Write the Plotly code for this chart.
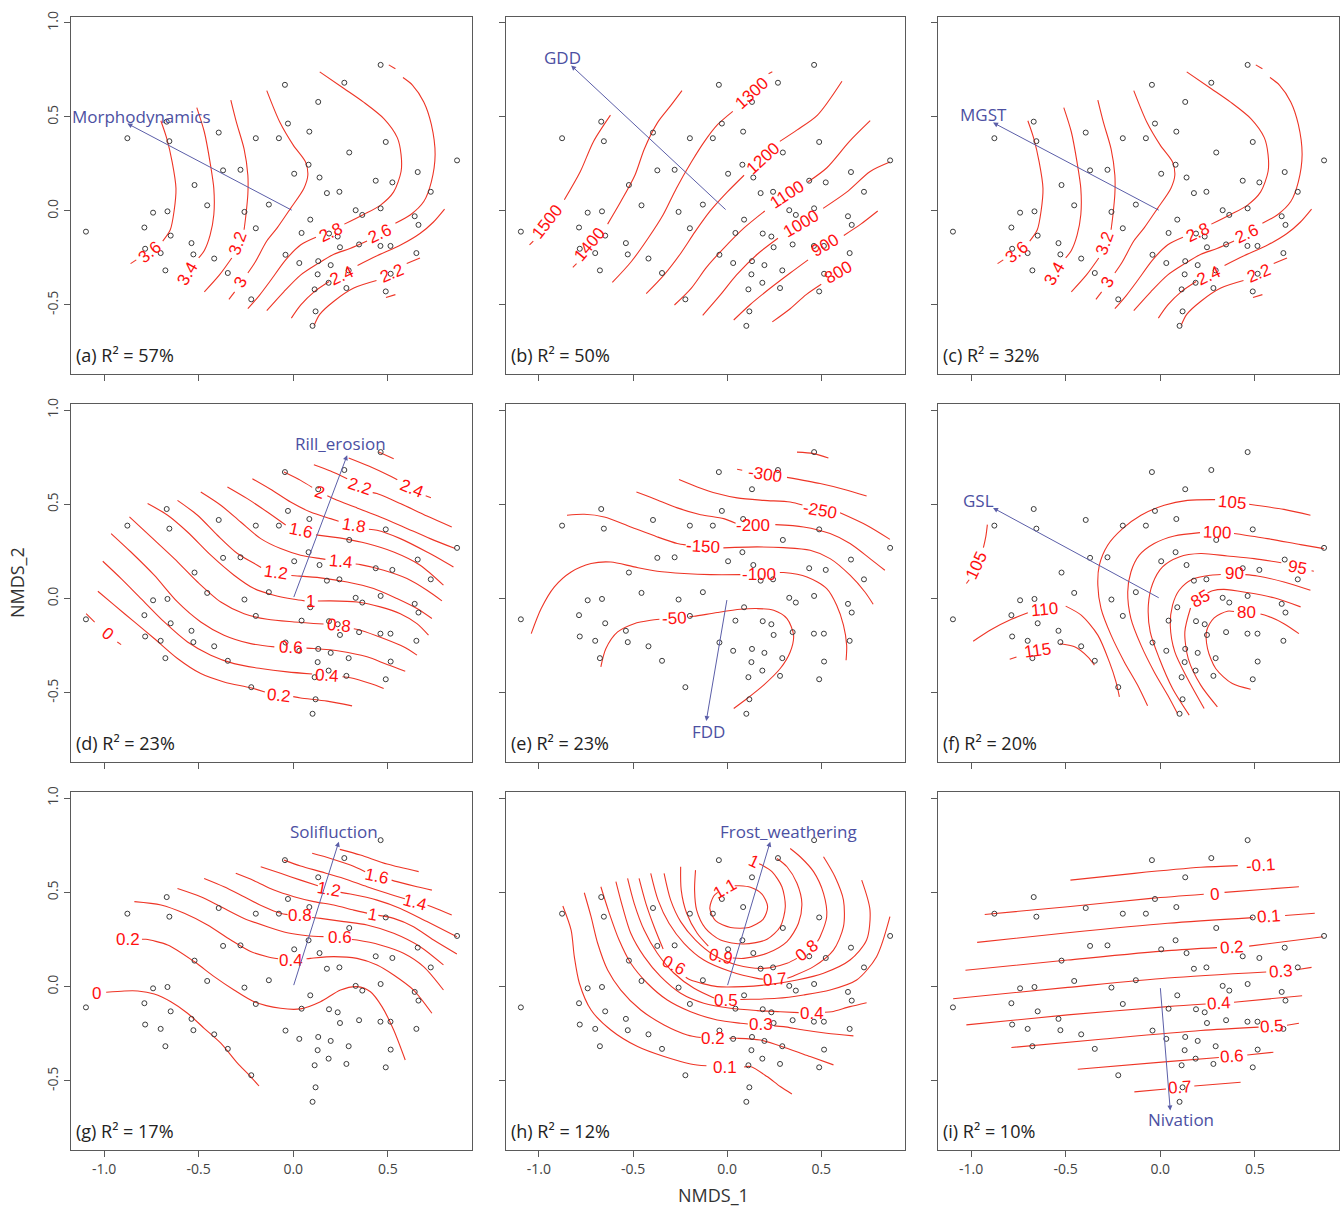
import plotly.graph_objects as go

# ---------------- data: NMDS site scores (same sites in every panel) ----------------
site_x = [0.462, -0.044, 0.270, 0.132, -0.669, -0.028, -0.877, -0.655, -0.394, -0.198,
          -0.076, 0.085, 0.489, 0.296, 0.866, -0.371, -0.279, 0.005, 0.081, 0.139,
          -0.522, 0.436, 0.524, 0.658, 0.178, 0.244, 0.727, -0.455, -0.129, -0.741,
          -0.665, -0.258, 0.330, 0.365, 0.462, 0.642, 0.090, 0.662, -1.096, -0.787,
          -0.648, -0.198, 0.044, 0.189, 0.235, -0.538, -0.783, -0.701, -0.528, -0.418,
          -0.041, 0.247, 0.348, 0.461, 0.514, 0.651, -0.676, -0.346, 0.032, 0.132,
          0.198, 0.293, 0.129, 0.515, 0.187, 0.113, 0.281, 0.489, -0.222, 0.118, 0.102]
site_y = [0.777, 0.671, 0.682, 0.580, 0.475, 0.465, 0.387, 0.371, 0.417, 0.387,
          0.387, 0.422, 0.367, 0.311, 0.269, 0.216, 0.219, 0.198, 0.246, 0.178,
          0.138, 0.161, 0.152, 0.207, 0.095, 0.102, 0.102, 0.030, 0.034, -0.009,
          -0.002, -0.005, 0.004, -0.021, 0.014, -0.028, -0.046, -0.074, -0.110, -0.088,
          -0.131, -0.092, -0.117, -0.120, -0.136, -0.171, -0.201, -0.224, -0.231, -0.253,
          -0.233, -0.193, -0.178, -0.186, -0.186, -0.224, -0.316, -0.330, -0.277, -0.267,
          -0.288, -0.316, -0.337, -0.334, -0.382, -0.417, -0.410, -0.428, -0.470, -0.534, -0.611]

panel_tags = ["(a)", "(b)", "(c)", "(d)", "(e)", "(f)", "(g)", "(h)", "(i)"]
panel_r2 = [57, 50, 32, 23, 23, 20, 17, 12, 10]

vector_names = ["Morphodynamics", "GDD", "MGST", "Rill_erosion", "FDD", "GSL",
                "Solifluction", "Frost_weathering", "Nivation"]
vector_tip_x = [-0.877, -0.829, -0.884, 0.285, -0.111, -0.884, 0.241, 0.229, 0.053]
vector_tip_y = [0.465, 0.774, 0.470, 0.760, -0.650, 0.481, 0.769, 0.769, -0.657]
vector_lab_x = [-0.80, -0.873, -0.937, 0.250, -0.099, -0.963, 0.214, 0.326, 0.109]
vector_lab_y = [0.50, 0.818, 0.512, 0.822, -0.707, 0.521, 0.822, 0.822, -0.707]

# ---------------- fitted surface isolines, None = gap for label ----------------
a_lines = [
    [(-0.70, 0.48), (-0.67, 0.39), (-0.64, 0.26), (-0.62, 0.12), (-0.63, 0.00), (-0.65, -0.10), (-0.69, -0.16), None, (-0.83, -0.26), (-0.86, -0.28)],
    [(-0.51, 0.55), (-0.47, 0.42), (-0.44, 0.26), (-0.42, 0.12), (-0.42, -0.02), (-0.44, -0.13), (-0.47, -0.21), (-0.50, -0.25)],
    [(-0.33, 0.59), (-0.30, 0.47), (-0.26, 0.33), (-0.24, 0.19), (-0.24, 0.09), (-0.25, -0.02), (-0.26, -0.10), None, (-0.325, -0.25), (-0.39, -0.34), (-0.47, -0.43)],
    [(-0.14, 0.64), (-0.07, 0.47), (0.00, 0.35), (0.065, 0.26), (0.077, 0.19), (0.056, 0.12), (-0.014, 0.014), (-0.085, -0.09), (-0.14, -0.16), (-0.20, -0.27), (-0.24, -0.33), None, (-0.31, -0.43), (-0.34, -0.47)],
    [(0.14, 0.74), (0.27, 0.65), (0.37, 0.58), (0.48, 0.49), (0.55, 0.39), (0.57, 0.30), (0.57, 0.21), (0.53, 0.10), (0.46, 0.03), (0.37, -0.02), (0.27, -0.07), None, (0.12, -0.14), (0.04, -0.18), (-0.04, -0.26), (-0.12, -0.37), (-0.18, -0.45), (-0.24, -0.52)],
    [(0.58, 0.71), (0.63, 0.67), (0.69, 0.58), (0.73, 0.46), (0.75, 0.30), (0.73, 0.155), (0.69, 0.05), (0.62, -0.02), (0.54, -0.065), None, (0.39, -0.16), (0.30, -0.20), (0.215, -0.23), (0.13, -0.28), (0.04, -0.34), (-0.05, -0.43), (-0.14, -0.53)],
    [(0.505, 0.777), (0.54, 0.756)],
    [(-0.01, -0.57), (0.04, -0.50), (0.11, -0.43), (0.19, -0.375), None, (0.34, -0.29), (0.44, -0.24), (0.57, -0.18), (0.67, -0.12), (0.74, -0.06), (0.80, 0.01)],
    [(0.11, -0.61), (0.14, -0.55), (0.215, -0.48), (0.32, -0.41), (0.44, -0.37), None, (0.60, -0.28), (0.67, -0.25)],
    [(0.49, -0.46), (0.54, -0.445)],
]
a_labels = [("3.6", -0.76, -0.22, -40), ("3.4", -0.56, -0.33, -60), ("3.2", -0.29, -0.17, -70),
            ("3", -0.28, -0.38, -60), ("2.8", 0.20, -0.115, -25), ("2.6", 0.46, -0.12, -25),
            ("2.4", 0.26, -0.345, -25), ("2.2", 0.52, -0.33, -22)]

b_lines = [
    [(-1.05, -0.18), (-1.03, -0.16), None, (-0.865, 0.06), (-0.78, 0.21), (-0.71, 0.37), (-0.62, 0.51)],
    [(-0.82, -0.30), (-0.80, -0.28), None, (-0.635, -0.07), (-0.565, 0.05), (-0.49, 0.19), (-0.44, 0.33), (-0.37, 0.47), (-0.30, 0.56), (-0.24, 0.64)],
    [(-0.61, -0.38), (-0.51, -0.27), (-0.42, -0.145), (-0.34, -0.02), (-0.27, 0.12), (-0.19, 0.26), (-0.12, 0.37), (-0.05, 0.46), (0.03, 0.53), None, (0.22, 0.73), (0.24, 0.74)],
    [(-0.43, -0.44), (-0.335, -0.34), (-0.25, -0.23), (-0.17, -0.11), (-0.09, 0.00), (0.00, 0.10), (0.09, 0.19), None, (0.28, 0.37), (0.37, 0.43), (0.48, 0.51), (0.61, 0.69)],
    [(-0.28, -0.50), (-0.19, -0.41), (-0.11, -0.30), (-0.02, -0.20), (0.09, -0.09), (0.20, 0.00), None, (0.43, 0.155), (0.53, 0.23), (0.65, 0.37), (0.76, 0.48)],
    [(-0.13, -0.555), (-0.035, -0.445), (0.05, -0.34), (0.16, -0.23), (0.27, -0.145), None, (0.51, 0.014), (0.635, 0.10), (0.76, 0.21), (0.865, 0.26)],
    [(0.035, -0.58), (0.12, -0.50), (0.23, -0.41), (0.335, -0.33), (0.43, -0.26), None, (0.62, -0.13), (0.71, -0.07), (0.80, 0.00)],
    [(0.24, -0.59), (0.335, -0.52), (0.42, -0.445), (0.50, -0.39)],
]
b_labels = [("1500", -0.955, -0.055, -52), ("1400", -0.73, -0.18, -50), ("1300", 0.13, 0.625, -42),
            ("1200", 0.19, 0.28, -42), ("1100", 0.32, 0.085, -33), ("1000", 0.395, -0.065, -30),
            ("900", 0.52, -0.185, -30), ("800", 0.59, -0.325, -30)]

c_lines = a_lines
c_labels = a_labels

d_lines = [
    [(-1.095, -0.080), (-1.05, -0.125), None, (-0.93, -0.23), (-0.91, -0.244)],
    [(-1.033, 0.039), (-0.946, -0.035), (-0.840, -0.124), (-0.735, -0.212), (-0.612, -0.318), (-0.489, -0.398), (-0.366, -0.442), (-0.225, -0.473), (-0.15, -0.495), None, (0.00, -0.52), (0.039, -0.527), (0.179, -0.544), (0.311, -0.569)],
    [(-1.007, 0.198), (-0.910, 0.106), (-0.805, 0.000), (-0.682, -0.124), (-0.559, -0.230), (-0.436, -0.300), (-0.313, -0.345), (-0.172, -0.371), (-0.032, -0.389), (0.10, -0.40), None, (0.26, -0.415), (0.302, -0.420), (0.408, -0.451), (0.478, -0.477)],
    [(-0.963, 0.345), (-0.858, 0.247), (-0.735, 0.124), (-0.612, -0.018), (-0.489, -0.124), (-0.366, -0.194), (-0.225, -0.239), (-0.10, -0.256), None, (0.07, -0.263), (0.109, -0.265), (0.250, -0.279), (0.390, -0.309), (0.496, -0.350), (0.592, -0.385)],
    [(-0.866, 0.433), (-0.752, 0.327), (-0.629, 0.212), (-0.506, 0.088), (-0.383, -0.018), (-0.260, -0.080), (-0.137, -0.110), (0.004, -0.124), (0.16, -0.135), None, (0.32, -0.16), (0.355, -0.168), (0.478, -0.212), (0.583, -0.256), (0.654, -0.300)],
    [(-0.770, 0.504), (-0.664, 0.442), (-0.559, 0.353), (-0.436, 0.230), (-0.313, 0.124), (-0.207, 0.053), (-0.102, 0.018), (0.004, -0.004), (0.06, -0.012), None, (0.13, -0.013), (0.197, -0.012), (0.337, -0.018), (0.460, -0.044), (0.566, -0.080), (0.654, -0.133), (0.715, -0.194)],
    [(-0.612, 0.521), (-0.506, 0.442), (-0.401, 0.336), (-0.295, 0.239), (-0.190, 0.177), (-0.17, 0.165), None, (-0.01, 0.122), (0.021, 0.120), (0.144, 0.110), (0.285, 0.088), (0.425, 0.053), (0.548, 0.000), (0.654, -0.053), (0.733, -0.106)],
    [(-0.489, 0.565), (-0.383, 0.495), (-0.278, 0.406), (-0.172, 0.318), (-0.067, 0.265), (0.039, 0.230), (0.144, 0.212), (0.17, 0.208), None, (0.33, 0.183), (0.355, 0.180), (0.478, 0.150), (0.601, 0.106), (0.707, 0.044), (0.786, -0.012)],
    [(-0.348, 0.592), (-0.243, 0.530), (-0.137, 0.459), (-0.04, 0.39), None, (0.12, 0.338), (0.267, 0.318), (0.390, 0.292), (0.531, 0.247), (0.671, 0.177), (0.794, 0.071)],
    [(-0.216, 0.636), (-0.120, 0.580), (-0.014, 0.512), (0.091, 0.459), (0.197, 0.424), (0.24, 0.41), None, (0.40, 0.368), (0.443, 0.362), (0.566, 0.318), (0.707, 0.247), (0.847, 0.168)],
    [(-0.049, 0.671), (0.039, 0.627), (0.10, 0.59), None, (0.18, 0.545), (0.214, 0.530), (0.337, 0.481), (0.460, 0.433), (0.583, 0.380), (0.724, 0.318), (0.856, 0.265)],
    [(0.109, 0.710), (0.197, 0.677), (0.285, 0.636), None, (0.42, 0.562), (0.443, 0.557), (0.566, 0.504), (0.707, 0.438), (0.838, 0.380)],
    [(0.293, 0.746), (0.399, 0.703), (0.504, 0.654), (0.55, 0.63), None, (0.70, 0.545), (0.728, 0.535)],
    [(0.452, 0.777), (0.531, 0.742)],
]
d_labels = [("0", -0.984, -0.186, 40), ("0.2", -0.076, -0.512, 6), ("0.4", 0.179, -0.41, 4),
            ("0.6", -0.014, -0.261, 2), ("0.8", 0.241, -0.145, 6), ("1", 0.091, -0.014, 0),
            ("1.2", -0.093, 0.138, 8), ("1.4", 0.250, 0.196, 6), ("1.6", 0.039, 0.36, 12),
            ("1.8", 0.320, 0.385, 10), ("2", 0.139, 0.565, 18), ("2.2", 0.351, 0.597, 18),
            ("2.4", 0.627, 0.585, 22)]

e_lines = [
    [(0.053, 0.686), (0.08, 0.681), None, (0.318, 0.643), (0.494, 0.610), (0.618, 0.580), (0.741, 0.544)],
    [(0.371, 0.777), (0.459, 0.769), (0.538, 0.746)],
    [(-0.256, 0.631), (-0.159, 0.592), (-0.053, 0.557), (0.053, 0.534), (0.194, 0.521), (0.335, 0.512), (0.40, 0.496), None, (0.60, 0.455), (0.741, 0.389), (0.865, 0.314)],
    [(-0.482, 0.565), (-0.388, 0.530), (-0.265, 0.481), (-0.141, 0.445), (-0.018, 0.424), (0.045, 0.40), None, (0.256, 0.392), (0.406, 0.380), (0.547, 0.345), (0.653, 0.292), (0.759, 0.212), (0.838, 0.150)],
    [(-0.851, 0.442), (-0.759, 0.447), (-0.653, 0.433), (-0.512, 0.380), (-0.371, 0.327), (-0.265, 0.292), (-0.22, 0.285), None, (-0.02, 0.269), (0.159, 0.274), (0.300, 0.270), (0.441, 0.256), (0.547, 0.212), (0.653, 0.124), (0.732, 0.035), (0.776, -0.030)],
    [(-1.041, -0.186), (-0.988, -0.053), (-0.918, 0.062), (-0.829, 0.141), (-0.723, 0.186), (-0.618, 0.194), (-0.494, 0.168), (-0.371, 0.145), (-0.229, 0.133), (-0.088, 0.127), (0.07, 0.127), None, (0.28, 0.138), (0.300, 0.138), (0.424, 0.115), (0.529, 0.053), (0.582, -0.035), (0.618, -0.141), (0.635, -0.247), (0.632, -0.327)],
    [(-0.671, -0.362), (-0.644, -0.265), (-0.582, -0.177), (-0.494, -0.133), (-0.406, -0.115), (-0.36, -0.11), None, (-0.20, -0.096), (-0.176, -0.094), (-0.053, -0.074), (0.071, -0.057), (0.159, -0.053), (0.247, -0.062), (0.318, -0.106), (0.353, -0.194), (0.335, -0.283), (0.282, -0.371), (0.194, -0.459), (0.106, -0.530), (0.035, -0.583)],
]
e_labels = [("-300", 0.203, 0.657, 8), ("-250", 0.494, 0.468, 10), ("-200", 0.138, 0.385, 0),
            ("-150", -0.127, 0.274, 3), ("-100", 0.168, 0.127, 0), ("-50", -0.282, -0.106, -3)]

f_lines = [
    [(0.794, 0.442), (0.654, 0.473), (0.47, 0.50), None, (0.29, 0.525), (0.144, 0.521), (0.021, 0.495), (-0.102, 0.442), (-0.199, 0.371), (-0.278, 0.283), (-0.322, 0.177), (-0.330, 0.071), (-0.313, -0.053), (-0.260, -0.194), (-0.190, -0.336), (-0.120, -0.459), (-0.067, -0.569)],
    [(0.865, 0.265), (0.742, 0.286), (0.566, 0.318), (0.39, 0.345), None, (0.21, 0.350), (0.074, 0.332), (-0.032, 0.292), (-0.111, 0.230), (-0.155, 0.141), (-0.172, 0.035), (-0.155, -0.106), (-0.102, -0.247), (-0.032, -0.389), (0.039, -0.512), (0.091, -0.610)],
    [(0.812, 0.145), (0.80, 0.148), None, (0.64, 0.19), (0.496, 0.212), (0.355, 0.226), (0.214, 0.239), (0.100, 0.221), (0.012, 0.168), (-0.040, 0.080), (-0.063, -0.035), (-0.053, -0.177), (-0.005, -0.318), (0.065, -0.477), (0.153, -0.618)],
    [(0.794, 0.044), (0.654, 0.088), (0.513, 0.120), (0.45, 0.127), None, (0.32, 0.128), (0.267, 0.124), (0.170, 0.102), (0.100, 0.044), (0.065, -0.035), (0.053, -0.141), (0.077, -0.283), (0.144, -0.424), (0.232, -0.583)],
    [(0.742, -0.044), (0.601, 0.004), (0.460, 0.032), (0.337, 0.049), (0.276, 0.042), (0.25, 0.03), None, (0.16, -0.05), (0.130, -0.177), (0.148, -0.318), (0.214, -0.459), (0.302, -0.574)],
    [(0.733, -0.186), (0.654, -0.133), (0.566, -0.092), (0.53, -0.082), None, (0.39, -0.069), (0.355, -0.067), (0.285, -0.102), (0.246, -0.168), (0.250, -0.265), (0.293, -0.371), (0.381, -0.451), (0.478, -0.481)],
    [(-0.989, -0.226), (-0.893, -0.164), (-0.787, -0.110), (-0.70, -0.075), None, (-0.50, -0.04), (-0.418, -0.088), (-0.330, -0.194), (-0.269, -0.336), (-0.234, -0.442), (-0.216, -0.521)],
    [(-0.796, -0.322), (-0.76, -0.31), None, (-0.53, -0.24), (-0.453, -0.256), (-0.383, -0.309), (-0.348, -0.353)],
    [(-0.914, 0.392), (-0.922, 0.33), (-0.935, 0.27), None, (-1.01, 0.10), (-1.025, 0.08)],
]
f_labels = [("105", 0.381, 0.509, 5), ("100", 0.302, 0.348, 2), ("95", 0.724, 0.163, 10),
            ("90", 0.390, 0.133, 0), ("85", 0.214, 0.000, -30), ("80", 0.457, -0.076, 0),
            ("110", -0.612, -0.057, -5), ("115", -0.647, -0.274, -8), ("105", -0.972, 0.177, -65)]

g_lines = [
    [(-0.989, -0.030), (-0.893, -0.023), (-0.822, -0.023), (-0.735, -0.039), (-0.647, -0.080), (-0.559, -0.141), (-0.471, -0.221), (-0.383, -0.300), (-0.295, -0.406), (-0.234, -0.468), (-0.181, -0.527)],
    [(-0.80, 0.251), (-0.779, 0.251), (-0.664, 0.221), (-0.524, 0.133), (-0.418, 0.053), (-0.313, -0.018), (-0.207, -0.080), (-0.067, -0.115), (0.039, -0.118), (0.144, -0.080), (0.250, -0.018), (0.337, 0.000), (0.408, -0.027), (0.469, -0.106), (0.531, -0.230), (0.592, -0.389)],
    [(-0.840, 0.451), (-0.699, 0.433), (-0.576, 0.389), (-0.453, 0.327), (-0.330, 0.247), (-0.225, 0.186), (-0.137, 0.159), (-0.08, 0.148), None, (0.07, 0.148), (0.091, 0.150), (0.214, 0.159), (0.337, 0.150), (0.443, 0.115), (0.531, 0.062), (0.636, -0.018), (0.733, -0.141)],
    [(-0.612, 0.521), (-0.489, 0.477), (-0.383, 0.424), (-0.260, 0.362), (-0.137, 0.318), (-0.032, 0.286), (0.074, 0.270), (0.16, 0.265), None, (0.31, 0.25), (0.337, 0.247), (0.460, 0.221), (0.583, 0.177), (0.689, 0.106), (0.794, -0.018)],
    [(-0.471, 0.574), (-0.366, 0.530), (-0.260, 0.477), (-0.155, 0.424), (-0.067, 0.389), (-0.03, 0.382), None, (0.10, 0.367), (0.144, 0.362), (0.267, 0.345), (0.390, 0.327), (0.531, 0.283), (0.671, 0.212), (0.794, 0.115)],
    [(-0.304, 0.601), (-0.207, 0.562), (-0.102, 0.512), (0.004, 0.477), (0.109, 0.451), (0.214, 0.433), (0.320, 0.406), (0.39, 0.39), None, (0.45, 0.378), (0.531, 0.362), (0.636, 0.318), (0.742, 0.247), (0.865, 0.173)],
    [(-0.172, 0.636), (-0.067, 0.601), (0.039, 0.565), (0.13, 0.535), None, (0.25, 0.50), (0.302, 0.491), (0.443, 0.459), (0.566, 0.415), (0.707, 0.345), (0.865, 0.265)],
    [(-0.049, 0.671), (0.039, 0.640), (0.144, 0.610), (0.267, 0.574), (0.390, 0.530), (0.496, 0.495), (0.59, 0.466), None, (0.71, 0.432), (0.742, 0.420), (0.838, 0.380)],
    [(0.100, 0.707), (0.197, 0.680), (0.302, 0.645), (0.38, 0.61), None, (0.52, 0.565), (0.548, 0.557), (0.654, 0.530), (0.733, 0.512)],
    [(0.246, 0.728), (0.355, 0.698), (0.496, 0.650), (0.663, 0.610)],
]
g_labels = [("0", -1.042, -0.039, 0), ("0.2", -0.875, 0.251, 0), ("0.4", -0.014, 0.140, 0),
            ("0.6", 0.246, 0.258, 0), ("0.8", 0.035, 0.375, 0), ("1", 0.417, 0.385, 10),
            ("1.2", 0.188, 0.516, 10), ("1.4", 0.645, 0.447, 15), ("1.6", 0.443, 0.585, 12)]

h_lines = [
    [(-0.873, 0.428), (-0.829, 0.300), (-0.812, 0.159), (-0.785, 0.018), (-0.723, -0.124), (-0.618, -0.230), (-0.476, -0.318), (-0.335, -0.371), (-0.194, -0.410), (-0.11, -0.42), None, (0.09, -0.426), (0.124, -0.424), (0.212, -0.477), (0.282, -0.530), (0.344, -0.569)],
    [(-0.759, 0.498), (-0.723, 0.371), (-0.688, 0.230), (-0.635, 0.088), (-0.565, -0.018), (-0.459, -0.124), (-0.335, -0.203), (-0.212, -0.256), (-0.14, -0.27), None, (0.01, -0.274), (0.053, -0.274), (0.176, -0.283), (0.318, -0.327), (0.441, -0.371), (0.565, -0.415)],
    [(-0.671, 0.530), (-0.626, 0.389), (-0.574, 0.247), (-0.512, 0.124), (-0.424, 0.018), (-0.318, -0.071), (-0.194, -0.133), (-0.053, -0.177), (0.071, -0.194), (0.11, -0.198), None, (0.25, -0.208), (0.300, -0.212), (0.406, -0.230), (0.529, -0.247), (0.671, -0.261)],
    [(-0.591, 0.557), (-0.556, 0.424), (-0.512, 0.283), (-0.441, 0.159), (-0.353, 0.053), (-0.247, -0.035), (-0.124, -0.088), (0.018, -0.115), (0.159, -0.127), (0.282, -0.133), (0.38, -0.138), None, (0.52, -0.136), (0.556, -0.133), (0.653, -0.106), (0.741, -0.085)],
    [(-0.529, 0.574), (-0.494, 0.442), (-0.441, 0.300), (-0.371, 0.177), (-0.282, 0.071), (-0.176, -0.009), (-0.07, -0.06), None, (0.07, -0.068), (0.124, -0.067), (0.265, -0.062), (0.406, -0.044), (0.547, -0.018), (0.688, 0.035), (0.794, 0.159), (0.865, 0.371)],
    [(-0.468, 0.574), (-0.432, 0.442), (-0.388, 0.318), (-0.34, 0.20), None, (-0.22, 0.05), (-0.194, 0.035), (-0.053, 0.000), (0.088, 0.000), (0.229, 0.012), (0.371, 0.035), (0.512, 0.071), (0.653, 0.141), (0.741, 0.247), (0.759, 0.406), (0.715, 0.565)],
    [(-0.406, 0.601), (-0.367, 0.459), (-0.309, 0.336), (-0.229, 0.230), (-0.124, 0.141), (0.018, 0.080), (0.159, 0.044), (0.19, 0.04), None, (0.32, 0.045), (0.353, 0.057), (0.459, 0.106), (0.565, 0.194), (0.618, 0.318), (0.618, 0.459), (0.573, 0.583), (0.512, 0.689)],
    [(-0.335, 0.601), (-0.300, 0.459), (-0.247, 0.345), (-0.168, 0.247), (-0.071, 0.168), (0.053, 0.115), (0.194, 0.097), (0.318, 0.124), (0.37, 0.15), None, (0.48, 0.24), (0.494, 0.265), (0.529, 0.371), (0.512, 0.495), (0.459, 0.610), (0.388, 0.689), (0.335, 0.733)],
    [(-0.247, 0.636), (-0.244, 0.512), (-0.215, 0.389), (-0.159, 0.283), (-0.10, 0.215), None, (0.03, 0.152), (0.088, 0.150), (0.212, 0.177), (0.318, 0.239), (0.379, 0.336), (0.397, 0.442), (0.371, 0.548), (0.318, 0.636), (0.265, 0.680)],
    [(-0.168, 0.618), (-0.173, 0.512), (-0.162, 0.406), (-0.115, 0.309), (-0.035, 0.247), (0.088, 0.226), (0.212, 0.251), (0.282, 0.318), (0.309, 0.424), (0.291, 0.530), (0.238, 0.610), (0.185, 0.645), (0.17, 0.652)],
    [(-0.05, 0.50), (-0.071, 0.481), (-0.092, 0.415), (-0.062, 0.350), (0.018, 0.314), (0.115, 0.314), (0.191, 0.357), (0.215, 0.424), (0.185, 0.491), (0.124, 0.527), (0.062, 0.535), (0.04, 0.535)],
]
h_labels = [("0.1", -0.009, -0.428, 0), ("0.2", -0.074, -0.274, 0), ("0.3", 0.180, -0.203, 0),
            ("0.4", 0.450, -0.141, 0), ("0.5", -0.004, -0.071, 0), ("0.6", -0.282, 0.112, 28),
            ("0.7", 0.256, 0.038, -5), ("0.8", 0.424, 0.192, -38), ("0.9", -0.035, 0.160, 12),
            ("1", 0.141, 0.663, 25), ("1.1", -0.009, 0.521, -30)]

i_lines = [
    [(-0.475, 0.565), (-0.137, 0.601), (0.214, 0.633), (0.41, 0.642)],
    [(-0.928, 0.383), (-0.489, 0.424), (-0.049, 0.468), (0.23, 0.49), None, (0.34, 0.50), (0.733, 0.530)],
    [(-0.968, 0.235), (-0.489, 0.286), (0.039, 0.336), (0.49, 0.366), None, (0.66, 0.377), (0.817, 0.389)],
    [(-1.030, 0.087), (-0.489, 0.141), (0.039, 0.191), (0.30, 0.207), None, (0.47, 0.215), (0.861, 0.265)],
    [(-1.095, -0.064), (-0.489, -0.004), (0.039, 0.046), (0.56, 0.078), None, (0.72, 0.090), (0.800, 0.102)],
    [(-1.025, -0.203), (-0.489, -0.150), (0.039, -0.106), (0.24, -0.092), None, (0.39, -0.083), (0.750, -0.048)],
    [(-0.787, -0.323), (-0.313, -0.279), (0.214, -0.233), (0.52, -0.215), None, (0.67, -0.205), (0.733, -0.194)],
    [(-0.436, -0.438), (0.039, -0.398), (0.31, -0.376), None, (0.46, -0.363), (0.598, -0.348)],
    [(-0.137, -0.558), (0.03, -0.543), None, (0.18, -0.527), (0.425, -0.507)],
]
i_labels = [("-0.1", 0.53, 0.645, -4), ("0", 0.285, 0.490, -4), ("0.1", 0.575, 0.370, -4),
            ("0.2", 0.381, 0.210, -4), ("0.3", 0.640, 0.082, -4), ("0.4", 0.311, -0.088, -4),
            ("0.5", 0.592, -0.212, -4), ("0.6", 0.378, -0.371, -4), ("0.7", 0.105, -0.535, -4)]

x_tick_vals = [-1.0, -0.5, 0.0, 0.5]
x_tick_text = ["-1.0", "-0.5", "0.0", "0.5"]
y_tick_vals = [-0.5, 0.0, 0.5, 1.0]
y_tick_text = ["-0.5", "0.0", "0.5", "1.0"]

# ---------------- styling / layout ----------------
W, H = 1343, 1207
COL_PX = [(71, 472), (506, 905), (938, 1339)]
ROW_PX = [(11, 370), (400, 760), (790, 1150)]
X_RANGE = [-1.175, 0.945]
Y_RANGE = [-0.868, 1.032]
LINE_RED = "#ee3526"
TEXT_RED = "#ff1010"
BLUE = "#5b5ea8"
BLUE_TXT = "#4c50a2"
FRAME = "#5a5a5a"
UI_FONT = "Open Sans, Noto Sans, sans-serif"
NUM_FONT = "Liberation Sans, Arial, sans-serif"

all_lines = [a_lines, b_lines, c_lines, d_lines, e_lines, f_lines, g_lines, h_lines, i_lines]
all_labels = [a_labels, b_labels, c_labels, d_labels, e_labels, f_labels, g_labels, h_labels, i_labels]

fig = go.Figure()
annotations = []
layout_axes = {}

for k in range(9):
    r, c = divmod(k, 3)
    sfx = "" if k == 0 else str(k + 1)
    xa, ya = "x" + sfx, "y" + sfx
    x0, x1 = COL_PX[c]
    y0, y1 = ROW_PX[r]
    layout_axes["xaxis" + sfx] = dict(
        domain=[x0 / W, x1 / W], range=X_RANGE, anchor=ya,
        showgrid=False, zeroline=False, showline=True, mirror=True,
        linecolor=FRAME, linewidth=1, ticks="outside", ticklen=6, tickcolor=FRAME,
        tickvals=x_tick_vals, ticktext=x_tick_text, showticklabels=(r == 2),
        tickfont=dict(family=UI_FONT, size=14, color="#444"), fixedrange=True)
    layout_axes["yaxis" + sfx] = dict(
        domain=[1 - y1 / H, 1 - y0 / H], range=Y_RANGE, anchor=xa,
        showgrid=False, zeroline=False, showline=True, mirror=True,
        linecolor=FRAME, linewidth=1, ticks="outside", ticklen=6, tickcolor=FRAME,
        tickvals=y_tick_vals, ticktext=y_tick_text, showticklabels=(c == 0),
        tickangle=-90, tickfont=dict(family=UI_FONT, size=14, color="#444"), fixedrange=True)

    # isolines
    lx, ly = [], []
    for line in all_lines[k]:
        for p in line:
            if p is None:
                lx.append(None); ly.append(None)
            else:
                lx.append(p[0]); ly.append(p[1])
        lx.append(None); ly.append(None)
    fig.add_trace(go.Scatter(x=lx, y=ly, xaxis=xa, yaxis=ya, mode="lines",
                             line=dict(color=LINE_RED, width=1.1, shape="spline", smoothing=0.8),
                             connectgaps=False, hoverinfo="skip", showlegend=False))
    # sites
    fig.add_trace(go.Scatter(x=site_x, y=site_y, xaxis=xa, yaxis=ya, mode="markers",
                             marker=dict(symbol="circle-open", size=5, color="#3a3a3a",
                                         line=dict(width=1, color="#3a3a3a")),
                             hoverinfo="skip", showlegend=False))
    # isoline labels
    for txt, tx, ty, ang in all_labels[k]:
        annotations.append(dict(x=tx, y=ty, xref=xa, yref=ya, text=txt, showarrow=False,
                                textangle=ang, font=dict(family=NUM_FONT, size=17, color=TEXT_RED)))
    # fitted vector arrow
    annotations.append(dict(x=vector_tip_x[k], y=vector_tip_y[k], ax=0, ay=0,
                            xref=xa, yref=ya, axref=xa, ayref=ya, text="", showarrow=True,
                            arrowhead=2, arrowsize=1, arrowwidth=1, arrowcolor=BLUE, standoff=0))
    annotations.append(dict(x=vector_lab_x[k], y=vector_lab_y[k], xref=xa, yref=ya,
                            text=vector_names[k], showarrow=False,
                            font=dict(family=UI_FONT, size=17, color=BLUE_TXT)))
    # panel tag
    annotations.append(dict(x=0.008, y=0.053, xref=xa + " domain", yref=ya + " domain",
                            xanchor="left", yanchor="middle", showarrow=False,
                            text=f"{panel_tags[k]} R² = {panel_r2[k]}%",
                            font=dict(family=UI_FONT, size=18, color="#222")))

annotations.append(dict(x=713 / W, y=1 - 1195 / H, xref="paper", yref="paper", text="NMDS_1",
                        xanchor="center", yanchor="middle",
                        showarrow=False, font=dict(family=UI_FONT, size=18, color="#333")))
annotations.append(dict(x=17 / W, y=1 - 580 / H, xref="paper", yref="paper", text="NMDS_2",
                        xanchor="center", yanchor="middle",
                        textangle=-90, showarrow=False, font=dict(family=UI_FONT, size=18, color="#333")))

fig.update_layout(width=W, height=H, margin=dict(l=0, r=0, t=0, b=0),
                  paper_bgcolor="white", plot_bgcolor="white", showlegend=False,
                  annotations=annotations, **layout_axes)

fig.write_html("out.html", config={"displayModeBar": False},
               post_script="document.body.style.margin='0px';document.body.style.overflow='hidden';")
